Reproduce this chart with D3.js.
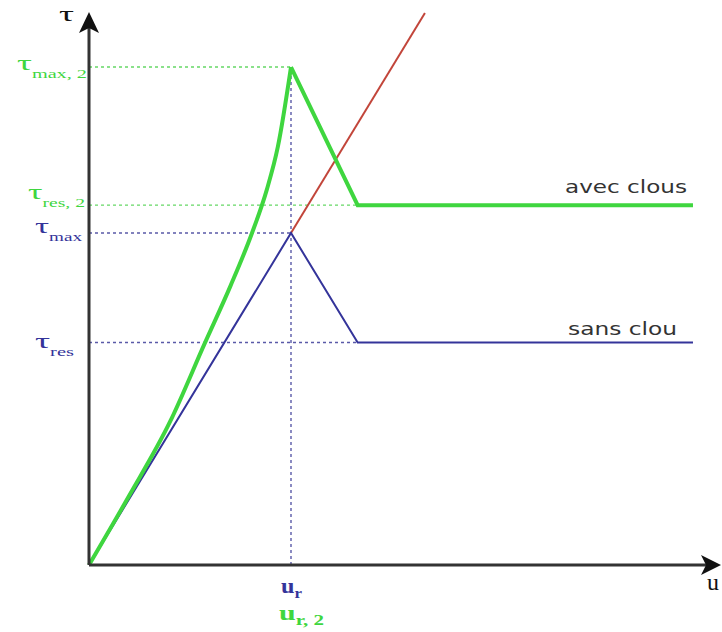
<!DOCTYPE html>
<html>
<head>
<meta charset="utf-8">
<script src="https://cdn.jsdelivr.net/npm/d3@7"></script>
<style>
  html, body { margin: 0; padding: 0; background: #fff; }
  svg { display: block; }
</style>
</head>
<body>
<script>
// Shear stress τ versus displacement u, with and without nails.

// Characteristic displacements
const uR = 1.0;          // u_r (peak)
const uResStart = 1.33;  // start of residual plateau
const uEnd = 2.99;       // end of plotted curves
const uRedEnd = 1.663;   // end of the elastic extension line

// Characteristic stresses
const tauMax = 1.0;
const tauRes = 0.67;
const tauMax2 = 1.5;
const tauRes2 = 1.084;

// Curves as [u, τ]
const sansClou = [[0, 0], [uR, tauMax], [uResStart, tauRes], [uEnd, tauRes]];
// with nails: hardening rise up to the peak, then softening to the plateau
const avecClousRiseU   = [0, 0.2, 0.4, 0.574, 0.7, 0.807, 0.88, 0.935, 1.0];
const avecClousRiseTau = [0, 0.21, 0.43, 0.669, 0.84, 1.0, 1.13, 1.26, 1.5];
const avecClousSoft = [[uR, tauMax2], [uResStart, tauRes2], [uEnd, tauRes2]];
const elastic = [[uR, tauMax], [uRedEnd, uRedEnd]];

const W = 722, H = 632;
const green = "#3fd63f", blue = "#34349a", red = "#c2453a";

const svg = d3.select("body").append("svg").attr("width", W).attr("height", H);

const x = d3.scaleLinear().domain([0, 3.1]).range([89, 715.2]);
const y = d3.scaleLinear().domain([0, 1.66]).range([565, 13.9]);

const line = d3.line().x(d => x(d[0])).y(d => y(d[1]));
const smooth = d3.line().x(d => x(d[0])).y(d => y(d[1])).curve(d3.curveMonotoneX);

// Reference dashed lines
const guides = [
  { pts: [[0, tauMax2], [uR, tauMax2]], c: "#66d866" },
  { pts: [[0, tauRes2], [uResStart, tauRes2]], c: "#66d866" },
  { pts: [[0, tauMax], [uR, tauMax]], c: "#5a5aa8" },
  { pts: [[0, tauRes], [uResStart, tauRes]], c: "#5a5aa8" },
  { pts: [[uR, 0], [uR, tauMax2]], c: "#5a5aa8" }
];
svg.append("g").selectAll("path").data(guides).join("path")
  .attr("d", d => line(d.pts))
  .attr("fill", "none")
  .attr("stroke", d => d.c)
  .attr("stroke-width", 1.4)
  .attr("stroke-dasharray", "3,3");

// Elastic extension
svg.append("path").attr("d", line(elastic))
  .attr("fill", "none").attr("stroke", red).attr("stroke-width", 2);

// Without nails
svg.append("path").attr("d", line(sansClou))
  .attr("fill", "none").attr("stroke", blue).attr("stroke-width", 2)
  .attr("stroke-linejoin", "miter");

// With nails
svg.append("path").attr("d", smooth(d3.zip(avecClousRiseU, avecClousRiseTau)))
  .attr("fill", "none").attr("stroke", green).attr("stroke-width", 4);
svg.append("path").attr("d", line(avecClousSoft))
  .attr("fill", "none").attr("stroke", green).attr("stroke-width", 4)
  .attr("stroke-linejoin", "miter");

// Axes with arrowheads
const axisColor = "#333";
svg.append("line").attr("x1", x(0)).attr("y1", y(0)).attr("x2", x(0)).attr("y2", 24)
  .attr("stroke", axisColor).attr("stroke-width", 3);
svg.append("line").attr("x1", x(0)).attr("y1", y(0)).attr("x2", 710).attr("y2", y(0))
  .attr("stroke", axisColor).attr("stroke-width", 3);
svg.append("path")
  .attr("d", `M${x(0)},12 L${x(0) + 10},33 L${x(0)},28 L${x(0) - 10},33 Z`)
  .attr("fill", "#111");
svg.append("path")
  .attr("d", `M721,${y(0)} L701,${y(0) - 10} L706,${y(0)} L701,${y(0) + 10} Z`)
  .attr("fill", "#111");

// Axis titles
const serif = "'Liberation Serif', 'DejaVu Serif', serif";
svg.append("text").attr("x", 59).attr("y", 21).attr("font-family", serif)
  .attr("font-size", 22).attr("fill", "#111")
  .attr("textLength", 15).attr("lengthAdjust", "spacingAndGlyphs").text("τ");
svg.append("text").attr("x", 707).attr("y", 590).attr("font-family", serif)
  .attr("font-size", 24).attr("fill", "#111").text("u");

// Stress level labels (τ with subscript)
const tauLabels = [
  { x0: 17, x1: 87, yb: y(tauMax2) + 3, sub: "max, 2", c: green },
  { x0: 28, x1: 85, yb: y(tauRes2) - 6, sub: "res, 2", c: green },
  { x0: 35, x1: 82, yb: y(tauMax) + 0, sub: "max", c: blue },
  { x0: 35, x1: 74, yb: y(tauRes) + 5, sub: "res", c: blue }
];
tauLabels.forEach(d => {
  const t = svg.append("text").attr("x", d.x0).attr("y", d.yb)
    .attr("font-family", serif).attr("fill", d.c)
    .attr("textLength", d.x1 - d.x0).attr("lengthAdjust", "spacingAndGlyphs");
  t.append("tspan").attr("font-size", 22).text("τ");
  t.append("tspan").attr("font-size", 12).attr("dy", 8).text(d.sub);
});

// Displacement labels
const uLabels = [
  { x0: 281, x1: 302, yb: 593, sub: "r", c: blue },
  { x0: 279, x1: 324, yb: 620, sub: "r, 2", c: green }
];
uLabels.forEach(d => {
  const t = svg.append("text").attr("x", d.x0).attr("y", d.yb)
    .attr("font-family", serif).attr("fill", d.c).attr("font-weight", "bold")
    .attr("textLength", d.x1 - d.x0).attr("lengthAdjust", "spacingAndGlyphs");
  t.append("tspan").attr("font-size", 20).text("u");
  t.append("tspan").attr("font-size", 14).attr("dy", 5).text(d.sub);
});

// Curve names
const sans = "'DejaVu Sans', Verdana, sans-serif";
svg.append("text").attr("x", 565).attr("y", y(tauRes2) - 12)
  .attr("font-family", sans).attr("font-size", 17).attr("fill", "#333")
  .attr("textLength", 122).attr("lengthAdjust", "spacingAndGlyphs").text("avec clous");
svg.append("text").attr("x", 568).attr("y", y(tauRes) - 8)
  .attr("font-family", sans).attr("font-size", 17).attr("fill", "#333")
  .attr("textLength", 109).attr("lengthAdjust", "spacingAndGlyphs").text("sans clou");
</script>
</body>
</html>
